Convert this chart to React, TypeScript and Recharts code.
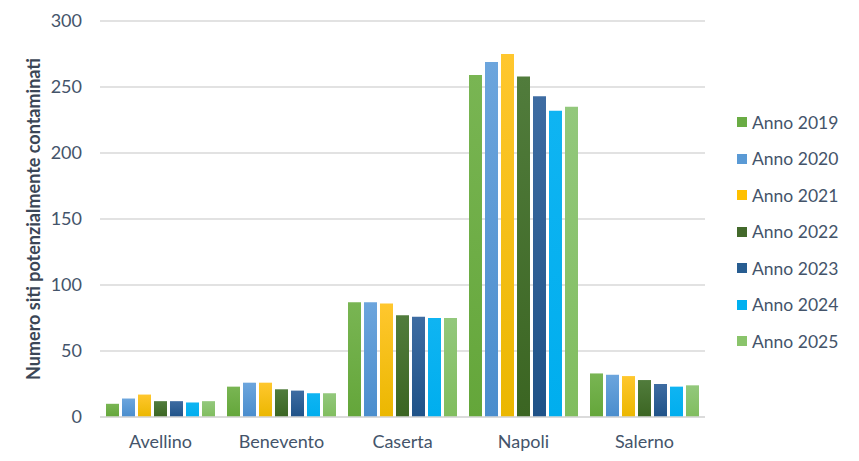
import React from 'react';
import { BarChart, Bar, XAxis, YAxis, CartesianGrid, Legend, Label } from 'recharts';

const provinces = ['Avellino', 'Benevento', 'Caserta', 'Napoli', 'Salerno'];

const anno2019 = [10, 23, 87, 259, 33];
const anno2020 = [14, 26, 87, 269, 32];
const anno2021 = [17, 26, 86, 275, 31];
const anno2022 = [12, 21, 77, 258, 28];
const anno2023 = [12, 20, 76, 243, 25];
const anno2024 = [11, 18, 75, 232, 23];
const anno2025 = [12, 18, 75, 235, 24];

const yTicks = [0, 50, 100, 150, 200, 250, 300];

const seriesList = [
  { key: 'Anno 2019', values: anno2019, top: '#79b553', bottom: '#64a63a', swatch: '#6aac44' },
  { key: 'Anno 2020', values: anno2020, top: '#6ca5dd', bottom: '#4a8dcd', swatch: '#5a9ad5' },
  { key: 'Anno 2021', values: anno2021, top: '#ffc72e', bottom: '#ebb700', swatch: '#ffc000' },
  { key: 'Anno 2022', values: anno2022, top: '#517c3c', bottom: '#3b6522', swatch: '#43692b' },
  { key: 'Anno 2023', values: anno2023, top: '#3e6ca2', bottom: '#1f5288', swatch: '#285d91' },
  { key: 'Anno 2024', values: anno2024, top: '#0fb4f2', bottom: '#00aeee', swatch: '#00b0f0' },
  { key: 'Anno 2025', values: anno2025, top: '#93c87c', bottom: '#80bd5e', swatch: '#8ac46b' },
];

const data = provinces.map((name, i) => {
  const row: Record<string, string | number> = { name };
  seriesList.forEach((s) => {
    row[s.key] = s.values[i];
  });
  return row;
});

const textColor = '#44546a';
const font = 'Lato, "Open Sans", sans-serif';

const renderLegend = () => (
  <ul style={{ listStyle: 'none', margin: 0, padding: 0, fontFamily: font }}>
    {seriesList.map((s) => (
      <li key={s.key} style={{ height: 36.5, display: 'flex', alignItems: 'center' }}>
        <span style={{ display: 'inline-block', width: 10, height: 10, background: s.swatch, marginRight: 5 }} />
        <span style={{ fontSize: 17.5, color: textColor }}>{s.key}</span>
      </li>
    ))}
  </ul>
);

const App: React.FC = () => {
  return (
    <div style={{ margin: '-8px 0 0 -8px', width: 859, height: 461, background: '#fff' }}>
      <BarChart
        width={859}
        height={461}
        data={data}
        margin={{ top: 21, right: 154, bottom: 14, left: 30 }}
        barSize={13}
        barGap={3}
      >
        <defs>
          {seriesList.map((s, i) => (
            <linearGradient key={s.key} id={`grad${i}`} x1="0" y1="0" x2="0" y2="1">
              <stop offset="0%" stopColor={s.top} />
              <stop offset="100%" stopColor={s.bottom} />
            </linearGradient>
          ))}
        </defs>
        <CartesianGrid vertical={false} stroke="#d9d9d9" strokeWidth={1.5} />
        <XAxis
          dataKey="name"
          height={30}
          tickLine={false}
          axisLine={{ stroke: '#d9d9d9', strokeWidth: 1.5 }}
          tick={{ fill: textColor, fontSize: 18, fontFamily: font }}
          tickMargin={12}
        />
        <YAxis
          width={70}
          domain={[0, 300]}
          ticks={yTicks}
          axisLine={false}
          tickLine={false}
          tick={{ fill: textColor, fontSize: 18, fontFamily: font }}
          tickMargin={12}
        >
          <Label
            content={() => (
              <text
                x={33}
                y={219}
                transform="rotate(-90 33 219)"
                textAnchor="middle"
                dominantBaseline="central"
                fill="#3b4656"
                fontSize={18}
                fontWeight="bold"
                fontFamily={font}
              >
                Numero siti potenzialmente contaminati
              </text>
            )}
          />
        </YAxis>
        <Legend
          layout="vertical"
          align="center"
          verticalAlign="middle"
          content={renderLegend}
          wrapperStyle={{ left: 737, top: 104, width: 120 }}
        />
        {seriesList.map((s, i) => (
          <Bar key={s.key} dataKey={s.key} fill={`url(#grad${i})`} isAnimationActive={false} />
        ))}
      </BarChart>
    </div>
  );
};

export default App;
